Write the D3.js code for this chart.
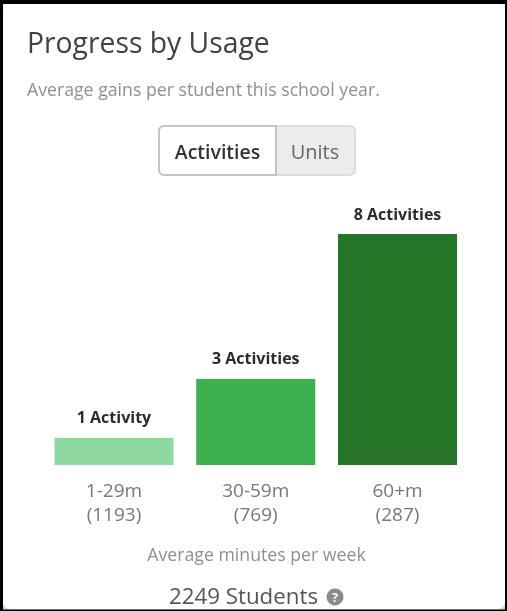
<!DOCTYPE html>
<html>
<head>
<meta charset="utf-8">
<script src="https://cdn.jsdelivr.net/npm/d3@7"></script>
<style>
html,body{margin:0;padding:0;background:#fff;overflow:hidden}
svg{display:block}
text{font-family:"Open Sans",sans-serif}
#content{filter:blur(0.55px)}
</style>
</head>
<body>
<svg id="c" width="507" height="611"></svg>
<script>
const ranges = ["1-29m","30-59m","60+m"];
const studentCounts = [1193,769,287];
const activities = [0.94,2.98,8];
const barLabels = ["1 Activity","3 Activities","8 Activities"];
const barColors = ["#8dd9a0","#3fb050","#277528"];
const toggleLabels = ["Activities","Units"];

const svg = d3.select("#c");
// photo frame
svg.append("rect").attr("width",507).attr("height",611).attr("fill","#000");
svg.append("rect").attr("x",3).attr("y",4).attr("width",502).attr("height",605.5).attr("fill","#d6d6d6");
svg.append("path").attr("fill","#f3f3f3").attr("d","M3,4H505V20H3Z");
svg.append("rect").attr("x",3).attr("y",4).attr("width",502).attr("height",605).attr("rx",7).attr("fill","#fff");

const g = svg.append("g").attr("id","content");

const x = d3.scaleBand().domain(ranges).range([54.5,457]).paddingInner(0.1605).paddingOuter(0);
const y = d3.scaleLinear().domain([0,8]).range([465,234]);

g.append("text").attr("x",27).attr("y",53).attr("font-size",28.3).attr("fill","#414141").text("Progress by Usage");
g.append("text").attr("x",27).attr("y",96).attr("font-size",17.7).attr("fill","#8f8f8f").text("Average gains per student this school year.");

// toggle
g.append("rect").attr("x",159).attr("y",126).attr("width",196).attr("height",49).attr("rx",5)
  .attr("fill","#ececec").attr("stroke","#d4d4d4").attr("stroke-width",1.5);
g.append("path").attr("d","M276,126H164a5,5 0 0 0 -5,5V170a5,5 0 0 0 5,5H276Z")
  .attr("fill","#fff").attr("stroke","#c4c4c4").attr("stroke-width",2);
g.append("text").attr("x",217.5).attr("y",158.5).attr("text-anchor","middle").attr("font-size",19.5).attr("font-weight",600).attr("fill","#333").text(toggleLabels[0]);
g.append("text").attr("x",315).attr("y",158.5).attr("text-anchor","middle").attr("font-size",20).attr("fill","#666").text(toggleLabels[1]);

g.selectAll("rect.bar").data(ranges).join("rect").attr("class","bar")
  .attr("x",d=>x(d)).attr("width",x.bandwidth())
  .attr("y",(d,i)=>y(activities[i])).attr("height",(d,i)=>y(0)-y(activities[i]))
  .attr("fill",(d,i)=>barColors[i]);

g.selectAll("text.val").data(ranges).join("text").attr("class","val")
  .attr("x",d=>x(d)+x.bandwidth()/2).attr("y",(d,i)=>y(activities[i])-14.5)
  .attr("text-anchor","middle").attr("font-size",16).attr("font-weight",700).attr("fill","#2b2b2b")
  .text((d,i)=>barLabels[i]);

g.selectAll("text.cat").data(ranges).join("text").attr("class","cat")
  .attr("x",d=>x(d)+x.bandwidth()/2).attr("y",497)
  .attr("text-anchor","middle").attr("font-size",19).attr("fill","#777").text(d=>d);
g.selectAll("text.cnt").data(ranges).join("text").attr("class","cnt")
  .attr("x",d=>x(d)+x.bandwidth()/2).attr("y",520.5)
  .attr("text-anchor","middle").attr("font-size",19).attr("fill","#777").text((d,i)=>"("+studentCounts[i]+")");

g.append("text").attr("x",256.5).attr("y",561).attr("text-anchor","middle").attr("font-size",17.7).attr("fill","#8f8f8f").text("Average minutes per week");
g.append("text").attr("x",243.5).attr("y",604).attr("text-anchor","middle").attr("font-size",22.3).attr("fill","#555").text(d3.sum(studentCounts)+" Students");
g.append("circle").attr("cx",335).attr("cy",597).attr("r",8.5).attr("fill","#8a8a8a");
g.append("text").attr("x",335).attr("y",601.5).attr("text-anchor","middle").attr("font-size",12.5).attr("font-weight",700).attr("fill","#fff").text("?");
</script>
</body>
</html>
